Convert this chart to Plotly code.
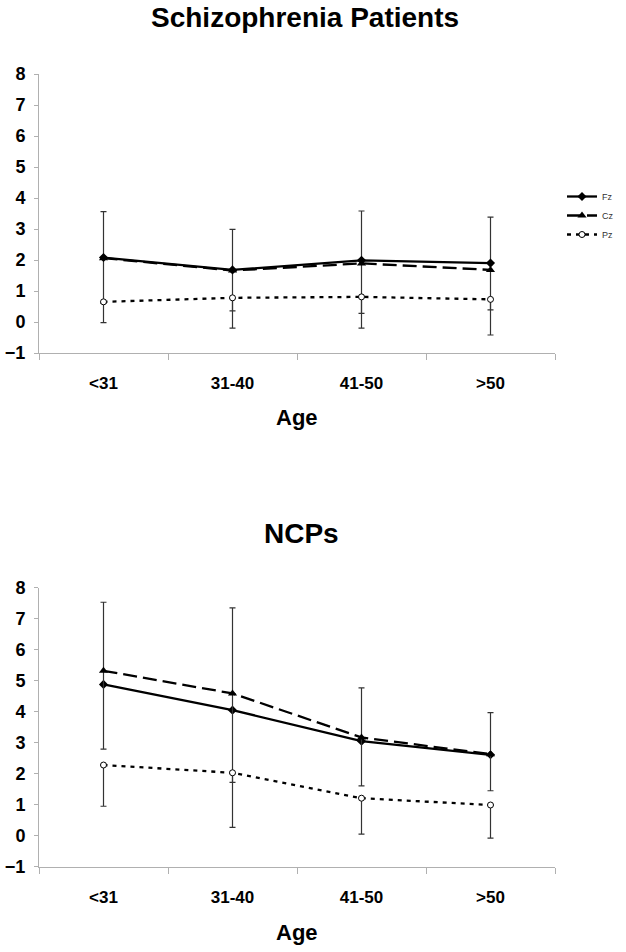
import plotly.graph_objects as go

# ---------------- data ----------------
age_groups = ["<31", "31-40", "41-50", ">50"]
y_ticks = [-1, 0, 1, 2, 3, 4, 5, 6, 7, 8]

# Schizophrenia patients
sz_fz = [2.08, 1.68, 1.99, 1.90]
sz_cz = [2.06, 1.66, 1.89, 1.68]
sz_pz = [0.65, 0.78, 0.81, 0.73]
sz_fz_err_plus = [1.48, 1.31, 1.59, 1.48]
sz_fz_err_minus = [1.48, 1.32, 1.71, 1.51]
sz_pz_err_minus = [0.67, 0.98, 1.01, 1.15]

# NCPs
nc_fz = [4.88, 4.05, 3.05, 2.61]
nc_cz = [5.32, 4.59, 3.17, 2.63]
nc_pz = [2.28, 2.03, 1.21, 0.99]
nc_cz_err_plus = [2.21, 2.76, 1.60, 1.34]
nc_cz_err_minus = [2.53, 2.87, 1.56, 1.18]
nc_pz_err_minus = [1.33, 1.76, 1.16, 1.07]

W, H = 626, 952


def px_x(p):
    return p / W


def px_y(p):
    return 1 - p / H


FONT = "Arial, Liberation Sans, sans-serif"
ERR_COLOR = "#333333"

fig = go.Figure()


def add_panel(xa, ya, fz, cz, pz, err_series, e_plus, e_minus, pz_minus, show_legend):
    err = dict(type="data", symmetric=False, array=e_plus, arrayminus=e_minus,
               color=ERR_COLOR, thickness=1.2, width=3)
    fz_err = err if err_series == "Fz" else None
    cz_err = err if err_series == "Cz" else None
    fig.add_trace(go.Scatter(
        x=age_groups, y=fz, name="Fz", mode="lines+markers", xaxis=xa, yaxis=ya,
        line=dict(color="black", width=2.3),
        marker=dict(symbol="diamond", size=7, color="black"),
        error_y=fz_err, showlegend=show_legend, legendgroup="Fz"))
    fig.add_trace(go.Scatter(
        x=age_groups, y=cz, name="Cz", mode="lines+markers", xaxis=xa, yaxis=ya,
        line=dict(color="black", width=2.3, dash="14px,6px"),
        marker=dict(symbol="triangle-up", size=8, color="black"),
        error_y=cz_err, showlegend=show_legend, legendgroup="Cz"))
    fig.add_trace(go.Scatter(
        x=age_groups, y=pz, name="Pz", mode="lines+markers", xaxis=xa, yaxis=ya,
        line=dict(color="black", width=2.3, dash="4px,5px"),
        marker=dict(symbol="circle", size=6, color="white",
                    line=dict(color="black", width=1)),
        error_y=dict(type="data", symmetric=False, array=[0] * len(pz),
                     arrayminus=pz_minus, color=ERR_COLOR, thickness=1.2, width=3),
        showlegend=show_legend, legendgroup="Pz"))


add_panel("x", "y", sz_fz, sz_cz, sz_pz, "Fz", sz_fz_err_plus, sz_fz_err_minus,
          sz_pz_err_minus, True)
add_panel("x2", "y2", nc_fz, nc_cz, nc_pz, "Cz", nc_cz_err_plus, nc_cz_err_minus,
          nc_pz_err_minus, False)

xax = dict(
    type="category", categoryorder="array", categoryarray=age_groups,
    range=[-0.5, 3.5], showline=True, linecolor="#b0b0b0", linewidth=1,
    ticks="outside", tickson="boundaries", ticklen=6, tickcolor="#b0b0b0",
    showgrid=False, zeroline=False, ticklabelstandoff=15, automargin=False,
    tickfont=dict(family=FONT, size=17, color="black", weight="bold"),
    domain=[px_x(39), px_x(555)], fixedrange=True)
yax = dict(
    range=[-1, 8], tickvals=y_ticks, showline=True, linecolor="#b0b0b0", linewidth=1,
    ticks="outside", ticklen=4, tickcolor="#b0b0b0", showgrid=False, zeroline=False,
    tickfont=dict(family=FONT, size=18, color="black", weight="bold"),
    ticklabelstandoff=5, automargin=False, fixedrange=True)

fig.update_layout(
    width=W, height=H,
    margin=dict(l=0, r=0, t=0, b=0, autoexpand=False),
    paper_bgcolor="white", plot_bgcolor="white",
    xaxis=dict(xax, anchor="y"),
    yaxis=dict(yax, anchor="x", domain=[px_y(353), px_y(74)]),
    xaxis2=dict(xax, anchor="y2"),
    yaxis2=dict(yax, anchor="x2", domain=[px_y(866.7), px_y(587.7)]),
    legend=dict(x=px_x(562), y=px_y(182), xanchor="left", yanchor="top",
                font=dict(family=FONT, size=9, color="#333333"),
                tracegroupgap=0, itemwidth=30, entrywidth=60,
                bgcolor="rgba(0,0,0,0)"),
    showlegend=True,
    annotations=[
        dict(text="Schizophrenia Patients", x=px_x(305), y=px_y(17), xref="paper",
             yref="paper", showarrow=False, xanchor="center", yanchor="middle",
             font=dict(family=FONT, size=28, color="black", weight="bold")),
        dict(text="Age", x=px_x(297), y=px_y(417), xref="paper", yref="paper",
             showarrow=False, xanchor="center", yanchor="middle",
             font=dict(family=FONT, size=22, color="black", weight="bold")),
        dict(text="NCPs", x=px_x(301), y=px_y(533), xref="paper", yref="paper",
             showarrow=False, xanchor="center", yanchor="middle",
             font=dict(family=FONT, size=28, color="black", weight="bold")),
        dict(text="Age", x=px_x(297), y=px_y(932), xref="paper", yref="paper",
             showarrow=False, xanchor="center", yanchor="middle",
             font=dict(family=FONT, size=22, color="black", weight="bold")),
    ],
)

fig.write_html("out.html",
               config={"displayModeBar": False},
               post_script="document.body.style.margin='0px';"
                           "document.body.style.overflow='hidden';")
